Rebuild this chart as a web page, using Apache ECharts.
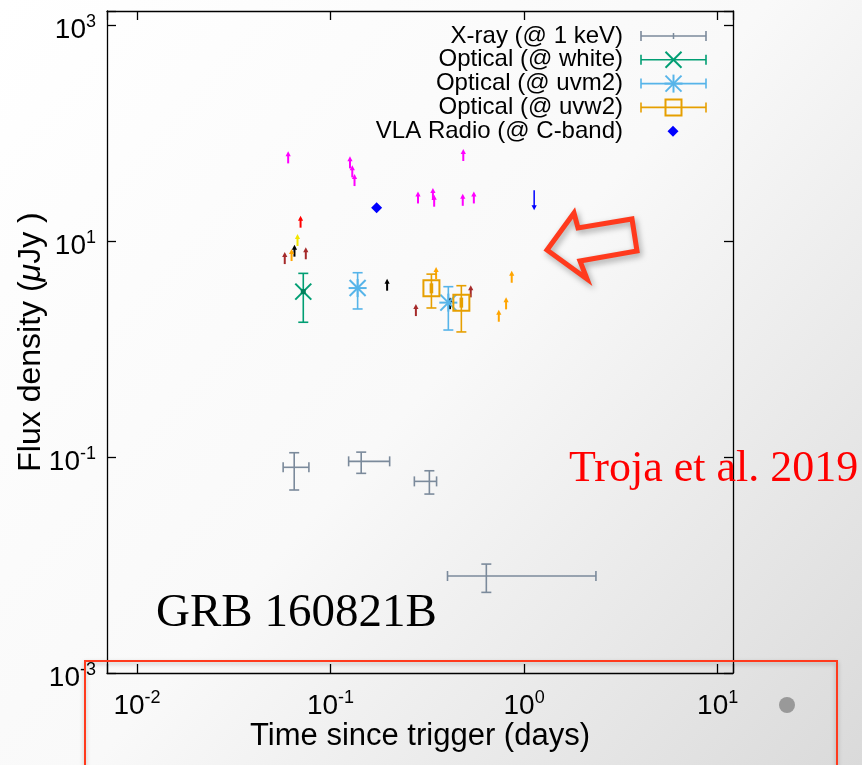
<!DOCTYPE html>
<html>
<head>
<meta charset="utf-8">
<title>GRB 160821B light curve</title>
<script src="https://cdn.jsdelivr.net/npm/echarts@6.0.0/dist/echarts.min.js"></script>
<style>
  html, body { margin: 0; padding: 0; background: #fff; }
  #chart { width: 862px; height: 765px; }
</style>
</head>
<body>
<div id="chart"></div>
<script>
// ---- X-ray (1 keV): time [d] with bin edges, flux density [uJy] with 1-sigma range
const xrayT   = [0.0649, 0.144, 0.324, 0.638];
const xrayTLo = [0.0569, 0.124, 0.271, 0.402];
const xrayTHi = [0.0773, 0.202, 0.353, 2.35];
const xrayF   = [0.0803, 0.0912, 0.0595, 0.00791];
const xrayFLo = [0.0495, 0.0706, 0.0454, 0.00558];
const xrayFHi = [0.1096, 0.111, 0.0746, 0.0102];

// ---- UVOT white
const whiteT   = [0.0723];
const whiteF   = [3.40];
const whiteFLo = [1.77];
const whiteFHi = [5.02];

// ---- UVOT uvm2
const uvm2T   = [0.138, 0.406];
const uvm2F   = [3.67, 2.69];
const uvm2FLo = [2.35, 1.50];
const uvm2FHi = [5.09, 3.78];

// ---- UVOT uvw2
const uvw2T   = [0.332, 0.474];
const uvw2F   = [3.65, 2.69];
const uvw2FLo = [2.40, 1.44];
const uvw2FHi = [4.94, 3.86];

// ---- VLA C-band: detection and later limit
const radioT    = [0.173];
const radioF    = [20.3];
const radioLimT = [1.127];
const radioLimF = [29.6];

// ---- optical / nIR limits, one set per filter group
const limSet1T = [0.0604, 0.126, 0.1295, 0.133, 0.485, 0.283, 0.338, 0.343, 0.482, 0.550];
const limSet1F = [52.4, 47.1, 38.9, 32.3, 55.1, 22.3, 24.0, 20.8, 21.2, 22.3];
const limSet2T = [0.070];
const limSet2F = [13.3];
const limSet3T = [0.0675];
const limSet3F = [9.0];
const limSet4T = [0.0651, 0.196, 0.414];
const limSet4F = [7.17, 3.47, 2.34];
const limSet5T = [0.0629, 0.351, 0.863, 0.807, 0.740];
const limSet5F = [6.53, 4.45, 4.11, 2.33, 1.79];
const limSet6T = [0.0580, 0.0745, 0.276, 0.530];
const limSet6F = [6.12, 6.78, 2.02, 3.01];

// ---- axes
const xRange = [0.007, 12];
const yRange = [1e-3, 1350];
const xTickExps = [-2, -1, 0, 1];
const yTickExps = [-3, -1, 1, 3];

const legendLabels = ['X-ray (@ 1 keV)', 'Optical (@ white)', 'Optical (@ uvm2)', 'Optical (@ uvw2)', 'VLA Radio (@ C-band)'];

// ------------------------------------------------------------------
const FONT = "'Liberation Sans', Arial, Helvetica, sans-serif";
const SERIF = "'Liberation Serif', 'DejaVu Serif', serif";
const COL = { xray: '#7b8a9b', white: '#009e73', uvm2: '#56b4e9', uvw2: '#e69f00', radio: '#0000ff' };
const LIMCOL = ['#ff00ff', '#ff0000', '#f2e600', '#000000', '#ffa500', '#a52a2a'];
const lg = v => Math.log10(v);

function seg(x1, y1, x2, y2, color, w) {
  return { type: 'line', shape: { x1, y1, x2, y2 }, style: { stroke: color, lineWidth: w } };
}

function markerShapes(kind, x, y, color, inLegend) {
  const s = 8, w = 2;
  if (kind === 'cross') {
    const out = [seg(x - s, y - s, x + s, y + s, color, w), seg(x - s, y + s, x + s, y - s, color, w)];
    if (!inLegend) out.push({ type: 'rect', shape: { x: x - 2.5, y: y - 2.5, width: 5, height: 5 }, style: { fill: '#00805c' } });
    return out;
  }
  if (kind === 'star') return [
    seg(x - s, y - s, x + s, y + s, color, w), seg(x - s, y + s, x + s, y - s, color, w),
    seg(x - s - 1, y, x + s + 1, y, color, w), seg(x, y - s - 1, x, y + s + 1, color, w)
  ];
  if (kind === 'square') {
    const out = [{ type: 'rect', shape: { x: x - s, y: y - s, width: 2 * s, height: 2 * s }, style: { stroke: color, fill: null, lineWidth: w } }];
    if (!inLegend) out.push({ type: 'rect', shape: { x: x - 1.8, y: y - 5, width: 3.6, height: 10 }, style: { fill: color } });
    return out;
  }
  if (kind === 'dot') return [seg(x, y - 3, x, y + 3, color, 1.5)];
  return [];
}

function errorSeries(name, T, TLo, THi, F, FLo, FHi, color, kind) {
  const data = T.map((t, i) => [t, TLo ? TLo[i] : t, THi ? THi[i] : t, lg(F[i]), lg(FLo[i]), lg(FHi[i])]);
  return {
    type: 'custom', name, data, silent: true,
    xAxisIndex: 0, yAxisIndex: 0,
    encode: { x: [0, 1, 2], y: [3, 4, 5] },
    renderItem: (params, api) => {
      const t = api.value(0), tl = api.value(1), th = api.value(2);
      const f = api.value(3), fl = api.value(4), fh = api.value(5);
      const c = api.coord([t, f]);
      const a = api.coord([tl, f]), b = api.coord([th, f]);
      const lo = api.coord([t, fl]), hi = api.coord([t, fh]);
      const k = 5, w = 1.6, out = [];
      if (b[0] - a[0] > 0.5) {
        out.push(seg(a[0], c[1], b[0], c[1], color, w),
                 seg(a[0], c[1] - k, a[0], c[1] + k, color, w),
                 seg(b[0], c[1] - k, b[0], c[1] + k, color, w));
      }
      out.push(seg(c[0], lo[1], c[0], hi[1], color, w),
               seg(c[0] - k, lo[1], c[0] + k, lo[1], color, w),
               seg(c[0] - k, hi[1], c[0] + k, hi[1], color, w));
      return { type: 'group', children: out.concat(markerShapes(kind, c[0], c[1], color, false)) };
    }
  };
}

// arrows: dir = +1 points up from the value, -1 points down from it
function limitSeries(T, F, color, dir) {
  return {
    type: 'custom', silent: true,
    xAxisIndex: 0, yAxisIndex: 0,
    data: T.map((t, i) => [t, lg(F[i])]),
    encode: { x: 0, y: 1 },
    renderItem: (params, api) => {
      const c = api.coord([api.value(0), api.value(1)]);
      const len = dir > 0 ? 12 : 20;
      const tipY = c[1] - dir * len;
      const hw = 2.6, hl = 5;
      return {
        type: 'group', children: [
          seg(c[0], c[1], c[0], tipY + dir * hl * 0.6, color, dir > 0 ? 2 : 1.5),
          { type: 'polygon', shape: { points: [[c[0] - hw, tipY + dir * hl], [c[0] + hw, tipY + dir * hl], [c[0], tipY]] }, style: { fill: color } }
        ]
      };
    }
  };
}

const xLabel = v => {
  const l = lg(v), e = Math.round(l);
  return (Math.abs(l - e) < 1e-6 && xTickExps.includes(e)) ? `{b|10}{s|${e}}` : '';
};
const yLabel = v => {
  const e = Math.round(v);
  return (Math.abs(v - e) < 1e-6 && yTickExps.includes(e)) ? `{b|10}{s|${e}}` : '';
};
const tickRich = {
  b: { fontSize: 28, fontFamily: FONT, color: '#000', lineHeight: 34 },
  s: { fontSize: 18, fontFamily: FONT, color: '#000', lineHeight: 19, verticalAlign: 'top' }
};
const axLine = { show: true, onZero: false, lineStyle: { color: '#000', width: 1.3 } };
const axTick = { show: true, inside: true, length: 9, lineStyle: { color: '#000', width: 1.3 } };

// ---- legend (key) drawn top right, text right-aligned with sample to its right
const legendKinds = ['dot', 'cross', 'star', 'square', 'radio'];
const legendColors = [COL.xray, COL.white, COL.uvm2, COL.uvw2, COL.radio];
const legendEls = [];
legendLabels.forEach((txt, i) => {
  const y = 36 + i * 23.8;
  legendEls.push({ type: 'text', x: 623, y, style: { text: txt, fill: '#000', fontSize: 24, fontFamily: FONT, align: 'right', verticalAlign: 'middle' } });
  const col = legendColors[i];
  if (legendKinds[i] === 'radio') {
    legendEls.push({ type: 'polygon', shape: { points: [[673, y - 5.5], [678.5, y], [673, y + 5.5], [667.5, y]] }, style: { fill: col } });
  } else {
    legendEls.push(seg(641, y, 706, y, col, 1.6), seg(641, y - 5, 641, y + 5, col, 1.6), seg(706, y - 5, 706, y + 5, col, 1.6));
    markerShapes(legendKinds[i], 673.5, y, col, true).forEach(e => legendEls.push(e));
  }
});

const chart = echarts.init(document.getElementById('chart'), null, { renderer: 'canvas' });
chart.setOption({
  animation: false,
  backgroundColor: 'transparent',
  grid: { left: 107, right: 129, top: 11, bottom: 92, containLabel: false, outerBoundsMode: 'none' },
  xAxis: [
    {
      type: 'log', logBase: 10, min: xRange[0], max: xRange[1], position: 'bottom',
      axisLine: axLine, axisTick: axTick, splitLine: { show: false }, minorTick: { show: false },
      axisLabel: { formatter: xLabel, margin: 16, rich: tickRich, showMinLabel: true, showMaxLabel: true },
      name: 'Time since trigger (days)', nameLocation: 'middle', nameGap: 48, nameMoveOverlap: false,
      nameTextStyle: { fontSize: 31, fontFamily: FONT, color: '#000' }
    },
    {
      type: 'log', logBase: 10, min: xRange[0], max: xRange[1], position: 'top',
      axisLine: axLine, axisTick: axTick, splitLine: { show: false }, axisLabel: { show: false }
    }
  ],
  yAxis: [
    {
      type: 'value', min: lg(yRange[0]), max: lg(yRange[1]), interval: 2, position: 'left',
      axisLine: axLine, axisTick: axTick, splitLine: { show: false },
      axisLabel: { formatter: yLabel, margin: 11, padding: [10, 0, 0, 0], rich: tickRich, showMinLabel: true, showMaxLabel: true },
      name: 'Flux density ({m|\u03bc}Jy )', nameLocation: 'middle', nameGap: 60, nameMoveOverlap: false,
      nameTextStyle: {
        fontSize: 32, fontFamily: FONT, color: '#000',
        rich: { m: { fontSize: 32, fontFamily: FONT, fontStyle: 'italic', color: '#000' } }
      }
    },
    {
      type: 'value', min: lg(yRange[0]), max: lg(yRange[1]), interval: 2, position: 'right',
      axisLine: axLine, axisTick: axTick, splitLine: { show: false }, axisLabel: { show: false }
    }
  ],
  series: [
    errorSeries('X-ray (@ 1 keV)', xrayT, xrayTLo, xrayTHi, xrayF, xrayFLo, xrayFHi, COL.xray, 'none'),
    limitSeries(limSet1T, limSet1F, LIMCOL[0], 1),
    limitSeries(limSet2T, limSet2F, LIMCOL[1], 1),
    limitSeries(limSet3T, limSet3F, LIMCOL[2], 1),
    limitSeries(limSet4T, limSet4F, LIMCOL[3], 1),
    limitSeries(limSet5T, limSet5F, LIMCOL[4], 1),
    limitSeries(limSet6T, limSet6F, LIMCOL[5], 1),
    errorSeries('Optical (@ white)', whiteT, null, null, whiteF, whiteFLo, whiteFHi, COL.white, 'cross'),
    errorSeries('Optical (@ uvm2)', uvm2T, null, null, uvm2F, uvm2FLo, uvm2FHi, COL.uvm2, 'star'),
    errorSeries('Optical (@ uvw2)', uvw2T, null, null, uvw2F, uvw2FLo, uvw2FHi, COL.uvw2, 'square'),
    {
      type: 'scatter', name: 'VLA Radio (@ C-band)', silent: true,
      xAxisIndex: 0, yAxisIndex: 0,
      data: radioT.map((t, i) => [t, lg(radioF[i])]),
      symbol: 'diamond', symbolSize: 11, itemStyle: { color: COL.radio, opacity: 1 }
    },
    limitSeries(radioLimT, radioLimF, COL.radio, -1)
  ],
  graphic: [
    {
      type: 'rect', z: -100, silent: true, shape: { x: 0, y: 0, width: 862, height: 765 },
      style: {
        fill: {
          type: 'linear', x: 0, y: 0, x2: 1, y2: 1,
          colorStops: [{ offset: 0, color: '#ffffff' }, { offset: 0.5, color: '#f9f9f9' }, { offset: 1, color: '#dadada' }]
        }
      }
    },
    { type: 'group', z: 100, silent: true, children: legendEls },
    {
      type: 'text', z: 100, silent: true, x: 156, y: 614,
      style: { text: 'GRB 160821B', fill: '#000', fontSize: 47, fontFamily: SERIF, align: 'left', verticalAlign: 'middle' }
    },
    {
      type: 'text', z: 100, silent: true, x: 569, y: 469,
      style: { text: 'Troja et al. 2019', fill: '#ff0000', fontSize: 44, fontFamily: SERIF, align: 'left', verticalAlign: 'middle' }
    },
    {
      type: 'polygon', z: 100, silent: true,
      shape: { points: [[547, 250], [574, 213], [578, 228], [632, 219], [637, 251], [580, 261], [587, 279]] },
      style: { fill: null, stroke: '#ff3a1d', lineWidth: 5, lineJoin: 'miter', shadowBlur: 6, shadowColor: 'rgba(0,0,0,0.35)', shadowOffsetX: 2, shadowOffsetY: 3 }
    },
    {
      type: 'rect', z: 100, silent: true, shape: { x: 85, y: 661, width: 752, height: 120 },
      style: { fill: null, stroke: '#ff3a1d', lineWidth: 2, shadowBlur: 4, shadowColor: 'rgba(0,0,0,0.25)', shadowOffsetY: 2 }
    },
    { type: 'circle', z: 100, silent: true, shape: { cx: 787, cy: 705, r: 8 }, style: { fill: '#999999' } }
  ]
});
</script>
</body>
</html>
